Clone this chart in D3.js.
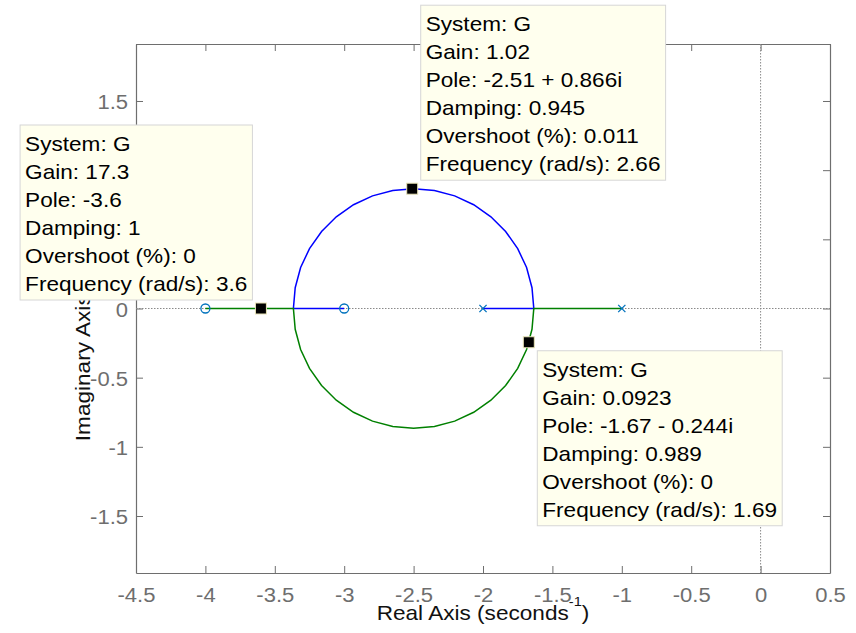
<!DOCTYPE html>
<html lang="en">
<head>
<meta charset="utf-8">
<title>Root Locus of G</title>
<script src="https://d3js.org/d3.v7.min.js"></script>
<style>
  body { margin: 0; background: #fff; }
  svg text { font-family: "Liberation Sans", Arial, Helvetica, sans-serif; }
</style>
</head>
<body>
<div id="chart"></div>
<script>

// Open-loop poles (x) and zeros (o) of G, all on the real axis
var poleRe = [-2, -1];
var zeroRe = [-4, -3];

// Branch 1 (blue): pole -2 -> break-away -> upper arc -> break-in -> zero -3
var blueRe = [-2, -1.634, -1.647, -1.686, -1.750, -1.837, -1.943, -2.067, -2.204, -2.350, -2.500,
              -2.650, -2.796, -2.933, -3.057, -3.163, -3.250, -3.314, -3.353, -3.366, -3];
var blueIm = [0, 0, 0.150, 0.296, 0.433, 0.557, 0.663, 0.750, 0.814, 0.853, 0.866,
              0.853, 0.814, 0.750, 0.663, 0.557, 0.433, 0.296, 0.150, 0, 0];

// Branch 2 (green): pole -1 -> break-away -> lower arc -> break-in -> zero -4
var greenRe = [-1, -1.634, -1.647, -1.686, -1.750, -1.837, -1.943, -2.067, -2.204, -2.350, -2.500,
               -2.650, -2.796, -2.933, -3.057, -3.163, -3.250, -3.314, -3.353, -3.366, -4];
var greenIm = [0, 0, -0.150, -0.296, -0.433, -0.557, -0.663, -0.750, -0.814, -0.853, -0.866,
               -0.853, -0.814, -0.750, -0.663, -0.557, -0.433, -0.296, -0.150, 0, 0];

var xTicks = [-4.5, -4, -3.5, -3, -2.5, -2, -1.5, -1, -0.5, 0, 0.5];
var yTicks = [-1.5, -1, -0.5, 0, 0.5, 1, 1.5];

// Data tips
var tipRe = [-2.51, -3.6, -1.67];
var tipIm = [0.866, 0, -0.244];
var tipLines = [
    ["System: G", "Gain: 1.02", "Pole: -2.51 + 0.866i", "Damping: 0.945", "Overshoot (%): 0.011", "Frequency (rad/s): 2.66"],
    ["System: G", "Gain: 17.3", "Pole: -3.6", "Damping: 1", "Overshoot (%): 0", "Frequency (rad/s): 3.6"],
    ["System: G", "Gain: 0.0923", "Pole: -1.67 - 0.244i", "Damping: 0.989", "Overshoot (%): 0", "Frequency (rad/s): 1.69"]
];

var width = 856, height = 633;
var mLeft = 136, mRight = 830, mTop = 44, mBottom = 573;
var SX = 1.13;            // glyphs in the original render are a bit wider than Arial
var axisColor = "#6e6e6e";

var svg = d3.select("#chart").append("svg")
    .attr("width", width)
    .attr("height", height);

var x = d3.scaleLinear().domain([-4.5, 0.5]).range([mLeft, mRight]);
var y = d3.scaleLinear().domain([-1.912, 1.912]).range([mBottom, mTop]);

var fmt = function(d) { return String(d); };

// Axes (inward ticks on all four sides)
var gBottom = svg.append("g").attr("transform", "translate(0," + mBottom + ")")
    .call(d3.axisBottom(x).tickValues(xTicks).tickSize(-7).tickSizeOuter(0).tickPadding(15.5).tickFormat(fmt));
var gTop = svg.append("g").attr("transform", "translate(0," + mTop + ")")
    .call(d3.axisTop(x).tickValues(xTicks).tickSize(-7).tickSizeOuter(0).tickFormat(""));
var gLeft = svg.append("g").attr("transform", "translate(" + mLeft + ",0)")
    .call(d3.axisLeft(y).tickValues(yTicks).tickSize(-7).tickSizeOuter(0).tickPadding(8).tickFormat(fmt));
var gRight = svg.append("g").attr("transform", "translate(" + mRight + ",0)")
    .call(d3.axisRight(y).tickValues(yTicks).tickSize(-7).tickSizeOuter(0).tickFormat(""));

[gBottom, gTop, gLeft, gRight].forEach(function(g) {
    g.select(".domain").attr("stroke", axisColor).attr("stroke-width", 1.2);
    g.selectAll(".tick line").attr("stroke", axisColor).attr("stroke-width", 1);
    g.selectAll(".tick text").attr("fill", axisColor).style("font-size", "19.5px");
});
gBottom.selectAll(".tick text").attr("transform", "scale(" + SX + ",1)");
gLeft.selectAll(".tick text")
    .attr("x", -8 / SX)
    .attr("dy", "0.4em")
    .attr("transform", "scale(" + SX + ",1)");

// Dotted lines on the real and imaginary axes
svg.append("line")
    .attr("x1", x(-4.5)).attr("x2", x(0.5)).attr("y1", y(0)).attr("y2", y(0))
    .attr("stroke", "#8a8a8a").attr("stroke-width", 1).attr("stroke-dasharray", "1.5,1.5");
svg.append("line")
    .attr("x1", x(0)).attr("x2", x(0)).attr("y1", y(1.912)).attr("y2", y(-1.912))
    .attr("stroke", "#8a8a8a").attr("stroke-width", 1).attr("stroke-dasharray", "1.5,1.5");

// Axis labels
var xl = svg.append("text")
    .attr("transform", "translate(" + ((mLeft + mRight) / 2) + ",620) scale(" + SX + ",1)")
    .attr("text-anchor", "middle")
    .style("font-size", "20px")
    .attr("fill", "#111");
xl.append("tspan").text("Real Axis (seconds");
xl.append("tspan").attr("dy", -14).style("font-size", "13px").text("-1");
xl.append("tspan").attr("dy", 14).text(")");

var yl = svg.append("text")
    .attr("transform", "translate(90," + y(0) + ") rotate(-90) scale(" + SX + ",1)")
    .attr("text-anchor", "middle")
    .style("font-size", "20px")
    .attr("fill", "#111");
yl.append("tspan").text("Imaginary Axis (seconds");
yl.append("tspan").attr("dy", -14).style("font-size", "13px").text("-1");
yl.append("tspan").attr("dy", 14).text(")");

// Root locus branches
function branch(re, im, color) {
    var line = d3.line()
        .x(function(i) { return x(re[i]); })
        .y(function(i) { return y(im[i]); });
    svg.append("path")
        .attr("d", line(d3.range(re.length)))
        .attr("fill", "none")
        .attr("stroke", color)
        .attr("stroke-width", 1.5);
}
branch(blueRe, blueIm, "#0000ff");
branch(greenRe, greenIm, "#008000");

// Poles and zeros
svg.selectAll(".pole")
    .data(poleRe)
    .enter().append("path")
    .attr("class", "pole")
    .attr("transform", function(d) { return "translate(" + x(d) + "," + y(0) + ")"; })
    .attr("d", "M-3.6,-3.6L3.6,3.6M-3.6,3.6L3.6,-3.6")
    .attr("stroke", "#0072bd")
    .attr("stroke-width", 1.3);

svg.selectAll(".zero")
    .data(zeroRe)
    .enter().append("circle")
    .attr("class", "zero")
    .attr("cx", function(d) { return x(d); })
    .attr("cy", y(0))
    .attr("r", 4.5)
    .attr("fill", "none")
    .attr("stroke", "#0072bd")
    .attr("stroke-width", 1.3);

// Data tip markers
svg.selectAll(".tipMark")
    .data(tipRe)
    .enter().append("rect")
    .attr("class", "tipMark")
    .attr("x", function(d) { return x(d) - 5.5; })
    .attr("y", function(d, i) { return y(tipIm[i]) - 5.5; })
    .attr("width", 11)
    .attr("height", 11)
    .attr("fill", "#000")
    .attr("stroke", "#e9e4b8")
    .attr("stroke-width", 1);

// Data tip boxes
var tipPlace = ["ne", "nw", "se"];
var off = 8.5, pad = 5, lineH = 28, firstBase = 26, boxH = 175;

tipLines.forEach(function(lines, i) {
    var g = svg.append("g");
    var box = g.append("rect")
        .attr("fill", "#ffffee")
        .attr("stroke", "#d6d6d6")
        .attr("stroke-width", 1);
    var texts = g.selectAll("text")
        .data(lines)
        .enter().append("text")
        .style("font-size", "20px")
        .attr("fill", "#000")
        .text(function(d) { return d; });
    var maxW = d3.max(texts.nodes(), function(n) { return n.getComputedTextLength(); }) * SX;
    var boxW = maxW + 2 * pad;
    var mx = x(tipRe[i]), my = y(tipIm[i]);
    var bx = tipPlace[i].indexOf("e") >= 0 ? mx + off : mx - off - boxW;
    var by = tipPlace[i].indexOf("n") >= 0 ? my - off - boxH : my + off;
    box.attr("x", bx).attr("y", by).attr("width", boxW).attr("height", boxH);
    texts.attr("transform", function(d, j) {
        return "translate(" + (bx + pad) + "," + (by + firstBase + j * lineH) + ") scale(" + SX + ",1)";
    });
});

</script>
</body>
</html>
